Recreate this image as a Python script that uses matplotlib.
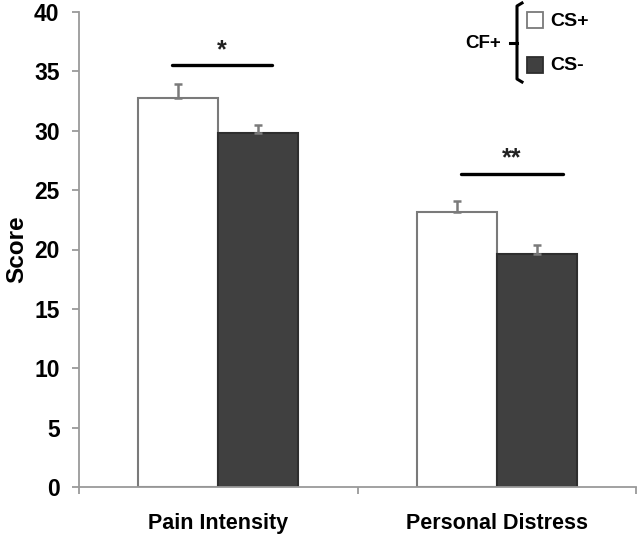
import matplotlib
matplotlib.use("Agg")
import matplotlib.pyplot as plt
import numpy as np

categories = ["Pain Intensity", "Personal Distress"]
cs_plus = [32.8, 23.2]
cs_plus_err = [1.1, 0.9]
cs_minus = [29.8, 19.6]
cs_minus_err = [0.7, 0.75]
y_ticks = [0, 5, 10, 15, 20, 25, 30, 35, 40]
sig_labels = ["*", "**"]
sig_heights = [35.5, 26.4]
sig_spans = [(-0.167, 0.192), (-0.129, 0.237)]

plt.rcParams['font.family'] = ['Liberation Sans', 'DejaVu Sans']
plt.rcParams['font.weight'] = 'bold'

fig = plt.figure(figsize=(6.38, 5.39), dpi=100)
ax = fig.add_axes([79/638, 1-487/539, 557/638, 475/539])

x = np.arange(len(categories))
w = 0.287
gray = "#9a9a9a"

ax.bar(x - w/2, cs_plus, w, color="white", edgecolor="#7a7a7a", linewidth=1.5, zorder=2)
ax.bar(x + w/2, cs_minus, w, color="#404040", edgecolor="#2e2e2e", linewidth=1.5, zorder=2)
ax.errorbar(x - w/2, cs_plus, yerr=[np.zeros(2), cs_plus_err], fmt="none",
            ecolor="#7a7a7a", elinewidth=1.8, capsize=3, capthick=1.8, zorder=3)
ax.errorbar(x + w/2, cs_minus, yerr=[np.zeros(2), cs_minus_err], fmt="none",
            ecolor="#7a7a7a", elinewidth=1.8, capsize=3, capthick=1.8, zorder=3)

for i, (lab, h, (a, b)) in enumerate(zip(sig_labels, sig_heights, sig_spans)):
    ax.plot([i + a, i + b], [h, h], color="black", lw=2.4, solid_capstyle="round", zorder=4)
    ax.text(i + (a + b) / 2, h + 1.25, lab, ha="center", va="center", fontsize=18,
            fontweight="bold", color="#222222")

ax.set_xlim(-0.5, 1.5)
ax.set_ylim(0, 40)
ax.set_yticks(y_ticks)
ax.set_yticklabels([str(t) for t in y_ticks], fontsize=16.5, fontweight="bold")
ax.set_xticks(x)
ax.set_xticklabels(categories, fontsize=15.5, fontweight="bold")
ax.set_xticks([-0.5, 0.5, 1.5], minor=True)
ax.tick_params(axis="x", which="major", length=0, pad=19)
ax.tick_params(axis="x", which="minor", length=5, width=1.3, color=gray, direction="out")
ax.tick_params(axis="y", which="major", length=5, width=1.3, color=gray, pad=9)
for s in ["top", "right"]:
    ax.spines[s].set_visible(False)
for s in ["left", "bottom"]:
    ax.spines[s].set_color(gray)
    ax.spines[s].set_linewidth(1.3)
ax.set_ylabel("Score", fontsize=17.5, fontweight="bold", va="center")
ax.yaxis.set_label_coords(-0.111, 0.5)

# legend (bracket style)
def ax_xy(px, py):
    return ((px - 79) / 557, (487 - py) / 475)

tr = ax.transAxes
bx = 517
pts = [ax_xy(522, 3), ax_xy(bx, 6), ax_xy(bx, 79), ax_xy(522, 82)]
ax.plot([p[0] for p in pts], [p[1] for p in pts], color="black", lw=2.2,
        transform=tr, clip_on=False, solid_joinstyle="round")
p1, p2 = ax_xy(510, 43), ax_xy(bx, 43)
ax.plot([p1[0], p2[0]], [p1[1], p2[1]], color="black", lw=2.2, transform=tr, clip_on=False)
tx, ty = ax_xy(501, 44)
ax.text(tx, ty, "CF+", transform=tr, ha="right", va="center", fontsize=13.5, fontweight="bold")
for (py, fc, ec, lab) in [(20, "white", "#7a7a7a", "CS+"), (65, "#404040", "#2e2e2e", "CS-")]:
    x0, y0 = ax_xy(527, py + 8)
    x1, y1 = ax_xy(543, py - 8)
    ax.add_patch(plt.Rectangle((x0, y0), x1 - x0, y1 - y0, transform=tr,
                               facecolor=fc, edgecolor=ec, lw=1.3, clip_on=False))
    lx, ly = ax_xy(550, py + 1)
    ax.text(lx, ly, lab, transform=tr, ha="left", va="center", fontsize=14, fontweight="bold")

fig.savefig("out.png", dpi=100)
